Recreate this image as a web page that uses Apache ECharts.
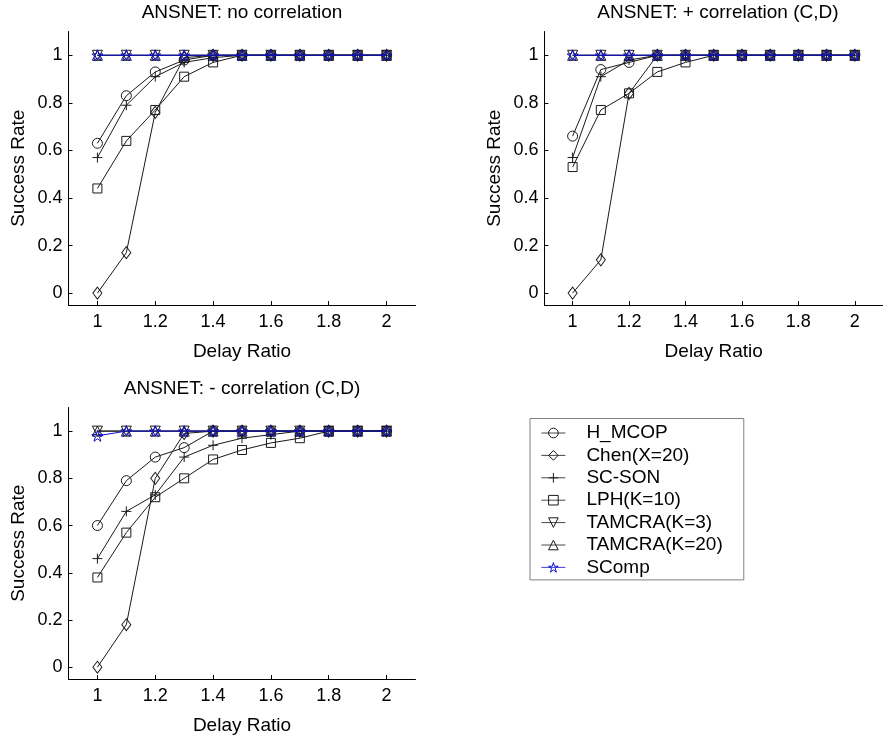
<!DOCTYPE html>
<html>
<head>
<meta charset="utf-8">
<script src="https://cdn.jsdelivr.net/npm/echarts@6/dist/echarts.min.js"></script>
<style>
  html, body { margin: 0; padding: 0; background: #fff; }
  #chart { width: 883px; height: 736px; }
</style>
</head>
<body>
<div id="chart"></div>
<script>
// Delay ratio values on the x axis
const delayRatio = [1, 1.1, 1.2, 1.3, 1.4, 1.5, 1.6, 1.7, 1.8, 1.9, 2];
const xTicks = [1, 1.2, 1.4, 1.6, 1.8, 2];
const yTicks = [0, 0.2, 0.4, 0.6, 0.8, 1];

const algorithms = ['H_MCOP', 'Chen(X=20)', 'SC-SON', 'LPH(K=10)', 'TAMCRA(K=3)', 'TAMCRA(K=20)', 'SComp'];
const panelTitles = ['ANSNET: no correlation', 'ANSNET: + correlation (C,D)', 'ANSNET: - correlation (C,D)'];

// Panel 1: no correlation
const hmcopNo   = [0.63, 0.83, 0.93, 0.98, 1, 1, 1, 1, 1, 1, 1];
const chenNo    = [0, 0.17, 0.76, 0.99, 1, 1, 1, 1, 1, 1, 1];
const scsonNo   = [0.57, 0.79, 0.91, 0.97, 0.99, 1, 1, 1, 1, 1, 1];
const lphNo     = [0.44, 0.64, 0.77, 0.91, 0.97, 1, 1, 1, 1, 1, 1];
const tam3No    = [1, 1, 1, 1, 1, 1, 1, 1, 1, 1, 1];
const tam20No   = [1, 1, 1, 1, 1, 1, 1, 1, 1, 1, 1];
const scompNo   = [1, 1, 1, 1, 1, 1, 1, 1, 1, 1, 1];

// Panel 2: positive correlation (C,D)
const hmcopPos  = [0.66, 0.94, 0.97, 1, 1, 1, 1, 1, 1, 1, 1];
const chenPos   = [0, 0.14, 0.84, 1, 1, 1, 1, 1, 1, 1, 1];
const scsonPos  = [0.57, 0.91, 0.98, 1, 1, 1, 1, 1, 1, 1, 1];
const lphPos    = [0.53, 0.77, 0.84, 0.93, 0.97, 1, 1, 1, 1, 1, 1];
const tam3Pos   = [1, 1, 1, 1, 1, 1, 1, 1, 1, 1, 1];
const tam20Pos  = [1, 1, 1, 1, 1, 1, 1, 1, 1, 1, 1];
const scompPos  = [1, 1, 1, 1, 1, 1, 1, 1, 1, 1, 1];

// Panel 3: negative correlation (C,D)
const hmcopNeg  = [0.60, 0.79, 0.89, 0.93, 1, 1, 1, 1, 1, 1, 1];
const chenNeg   = [0, 0.18, 0.80, 0.99, 1, 1, 1, 1, 1, 1, 1];
const scsonNeg  = [0.46, 0.66, 0.73, 0.89, 0.94, 0.97, 0.985, 1, 1, 1, 1];
const lphNeg    = [0.38, 0.57, 0.72, 0.80, 0.88, 0.92, 0.95, 0.97, 1, 1, 1];
const tam3Neg   = [1, 1, 1, 1, 1, 1, 1, 1, 1, 1, 1];
const tam20Neg  = [1, 1, 1, 1, 1, 1, 1, 1, 1, 1, 1];
const scompNeg  = [0.98, 1, 1, 1, 1, 1, 1, 1, 1, 1, 1];

const panels = [
  [hmcopNo, chenNo, scsonNo, lphNo, tam3No, tam20No, scompNo],
  [hmcopPos, chenPos, scsonPos, lphPos, tam3Pos, tam20Pos, scompPos],
  [hmcopNeg, chenNeg, scsonNeg, lphNeg, tam3Neg, tam20Neg, scompNeg]
];

const FONT = '"Liberation Sans", Arial, sans-serif';
const INK = '#000';
const LINE = '#1a1a1a';
const BLUE = '#1010d0';
const CLEAR = 'rgba(255,255,255,0)';

const starPath = 'path://M0,-100L22,-31L95,-31L36,12L59,81L0,38L-59,81L-36,12L-95,-31L-22,-31Z';
const plusPath = 'path://M0,-100L0,100M-100,0L100,0';

// marker style per algorithm
const markers = [
  { symbol: 'circle', size: 10, rotate: 0, color: LINE },
  { symbol: 'diamond', size: [9, 12], rotate: 0, color: LINE },
  { symbol: plusPath, size: 10, rotate: 0, color: LINE },
  { symbol: 'rect', size: 9, rotate: 0, color: LINE },
  { symbol: 'triangle', size: 10, rotate: 180, color: LINE },
  { symbol: 'triangle', size: 10, rotate: 0, color: LINE },
  { symbol: starPath, size: 11, rotate: 0, color: BLUE }
];

const grids = [
  { left: 68.5, top: 31.5, width: 347, height: 273.5 },
  { left: 544.4, top: 31.5, width: 347, height: 273.5 },
  { left: 68.5, top: 407.5, width: 347, height: 273.5 }
];

const axisCommon = {
  axisLine: { show: true, onZero: false, lineStyle: { color: INK, width: 1 } },
  axisTick: { show: true, inside: true, length: 4, lineStyle: { color: INK } },
  splitLine: { show: false },
  axisLabel: { color: INK, fontFamily: FONT, fontSize: 18 },
  nameTextStyle: { color: INK, fontFamily: FONT, fontSize: 19 }
};

const xAxes = grids.map((g, i) => ({
  ...axisCommon,
  type: 'value',
  gridIndex: i,
  min: 0.9,
  max: 2.1,
  name: 'Delay Ratio',
  nameLocation: 'middle',
  nameGap: 37,
  axisTick: { ...axisCommon.axisTick, customValues: xTicks },
  axisLabel: { ...axisCommon.axisLabel, margin: 8, customValues: xTicks, formatter: v => String(v) }
}));

const yAxes = grids.map((g, i) => ({
  ...axisCommon,
  type: 'value',
  gridIndex: i,
  min: -0.05,
  max: 1.1,
  name: 'Success Rate',
  nameLocation: 'middle',
  nameRotate: 90,
  nameGap: 40,
  axisTick: { ...axisCommon.axisTick, customValues: yTicks },
  axisLabel: { ...axisCommon.axisLabel, margin: 6, customValues: yTicks, formatter: v => String(v) }
}));

const series = [];
panels.forEach((panel, p) => {
  panel.forEach((vals, k) => {
    const m = markers[k];
    series.push({
      type: 'line',
      name: algorithms[k],
      xAxisIndex: p,
      yAxisIndex: p,
      data: delayRatio.map((x, j) => [x, vals[j]]),
      symbol: m.symbol,
      symbolSize: m.size,
      symbolRotate: m.rotate,
      showAllSymbol: true,
      animation: false,
      z: 2 + k,
      lineStyle: { color: m.color, width: 1 },
      itemStyle: { color: CLEAR, borderColor: m.color, borderWidth: 1 },
      emphasis: { disabled: true }
    });
  });
});

const chart = echarts.init(document.getElementById('chart'), null, { renderer: 'canvas' });
chart.setOption({
  backgroundColor: '#fff',
  animation: false,
  textStyle: { fontFamily: FONT },
  title: panelTitles.map((t, i) => ({
    text: t,
    left: grids[i].left + grids[i].width / 2,
    top: i < 2 ? 3 : 379,
    textAlign: 'center',
    padding: 0,
    textStyle: { color: INK, fontFamily: FONT, fontSize: 19, fontWeight: 'normal' }
  })),
  legend: {
    data: algorithms,
    orient: 'vertical',
    left: 530,
    top: 418.5,
    padding: [5, 21, 3, 11],
    itemWidth: 24,
    itemHeight: 12,
    itemGap: 3.4,
    borderColor: '#808080',
    borderWidth: 1,
    selectedMode: false,
    itemStyle: { color: CLEAR, borderWidth: 1 },
    lineStyle: { width: 0.8 },
    textStyle: { color: INK, fontFamily: FONT, fontSize: 19, padding: [0, 0, 0, 16] }
  },
  grid: grids,
  xAxis: xAxes,
  yAxis: yAxes,
  series: series
});
</script>
</body>
</html>
